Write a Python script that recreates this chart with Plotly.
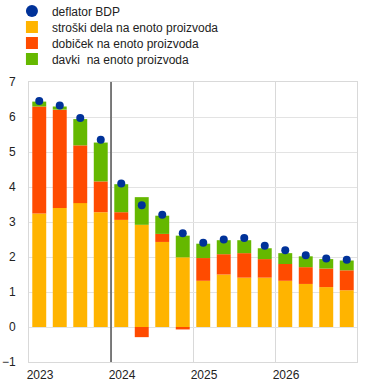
import plotly.graph_objects as go

quarters = ["2023Q1", "2023Q2", "2023Q3", "2023Q4",
            "2024Q1", "2024Q2", "2024Q3", "2024Q4",
            "2025Q1", "2025Q2", "2025Q3", "2025Q4",
            "2026Q1", "2026Q2", "2026Q3", "2026Q4"]
year_labels = ["2023", "2024", "2025", "2026"]

labour = [3.24, 3.40, 3.54, 3.28, 3.06, 2.92, 2.43, 1.99,
          1.32, 1.50, 1.41, 1.41, 1.32, 1.23, 1.14, 1.05]
profits = [3.06, 2.81, 1.65, 0.88, 0.22, -0.29, 0.23, -0.07,
           0.65, 0.58, 0.70, 0.53, 0.48, 0.48, 0.53, 0.57]
taxes = [0.14, 0.09, 0.75, 1.11, 0.80, 0.79, 0.52, 0.62,
         0.41, 0.40, 0.37, 0.31, 0.31, 0.31, 0.27, 0.28]
deflator = [6.46, 6.33, 5.97, 5.35, 4.10, 3.48, 3.21, 2.68,
            2.41, 2.50, 2.54, 2.32, 2.19, 2.05, 1.96, 1.92]

names = ["deflator BDP", "stroški dela na enoto proizvoda",
         "dobiček na enoto proizvoda", "davki  na enoto proizvoda"]

xpos = [i + 0.5 for i in range(len(quarters))]
FONT = "Liberation Sans, Arial, sans-serif"
TXT = "#222222"

fig = go.Figure()
fig.add_trace(go.Bar(x=xpos, y=labour, name=names[1], marker_color="#FFB400",
                     marker_line_width=0, width=0.68, legend="legend2",
                     customdata=quarters))
fig.add_trace(go.Bar(x=xpos, y=profits, name=names[2], marker_color="#FF4B00",
                     marker_line_width=0, width=0.68, legend="legend3",
                     customdata=quarters))
fig.add_trace(go.Bar(x=xpos, y=taxes, name=names[3], marker_color="#65B800",
                     marker_line_width=0, width=0.68, legend="legend4",
                     customdata=quarters))
fig.add_trace(go.Scatter(x=xpos, y=deflator, name=names[0], mode="markers",
                         marker=dict(color="#003299", size=8), legend="legend",
                         customdata=quarters))

# vertical projection line
fig.add_shape(type="line", x0=4, x1=4, y0=-1, y1=7, xref="x", yref="y",
              line=dict(color="#555555", width=1.5))

def leg(ypx):
    return dict(x=-0.052, xanchor="left", y=(362 - ypx) / 280, yanchor="middle",
                bgcolor="rgba(0,0,0,0)", font=dict(family=FONT, size=12, color=TXT),
                itemsizing="constant")

fig.update_layout(
    width=374, height=389,
    margin=dict(l=29, r=17, t=82, b=27, autoexpand=False),
    paper_bgcolor="white", plot_bgcolor="white",
    barmode="relative",
    font=dict(family=FONT, size=12, color=TXT),
    showlegend=True,
    legend=leg(11), legend2=leg(27), legend3=leg(43), legend4=leg(59),
    xaxis=dict(range=[0, 16], tickmode="array", tickvals=[0, 4, 8, 12],
               ticktext=year_labels, ticklabelshift=11, ticklabelstandoff=2,
               showgrid=True, gridcolor="#d9d9d9", gridwidth=1, zeroline=False,
               showline=True, linecolor="#d9d9d9", mirror=True, ticks="",
               tickfont=dict(family=FONT, size=12, color=TXT)),
    yaxis=dict(range=[-1, 7], dtick=1, showgrid=True, gridcolor="#e3e3e3",
               gridwidth=1, zeroline=False, showline=True, linecolor="#d9d9d9",
               mirror=True, ticks="", ticklabelstandoff=10,
               tickfont=dict(family=FONT, size=12, color=TXT)),
)

# remove the default 8px page margin so the figure fills the window
fig.write_html("out.html", config={"displayModeBar": False},
               post_script="document.body.style.margin='0';document.body.style.overflow='hidden';")
